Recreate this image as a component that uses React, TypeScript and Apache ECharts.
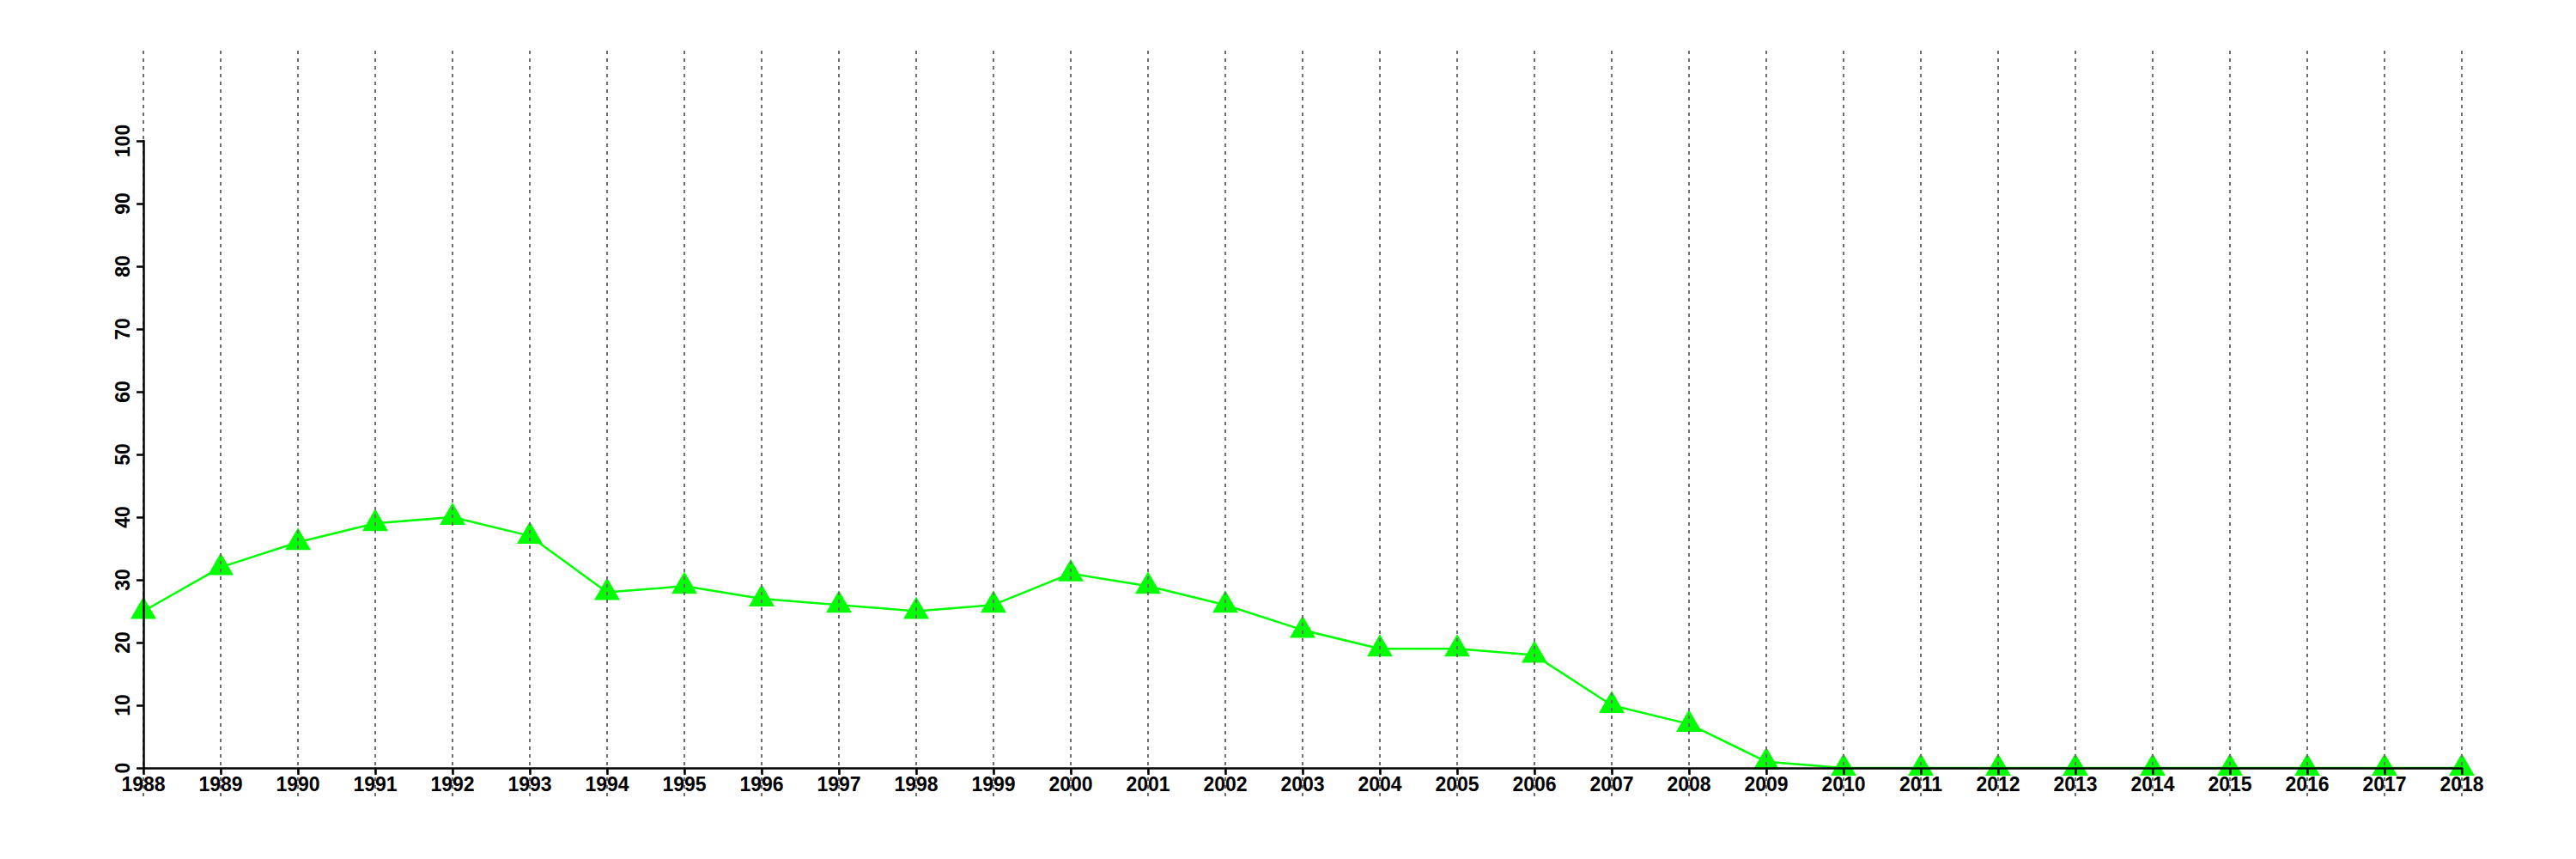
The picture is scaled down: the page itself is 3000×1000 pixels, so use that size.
import React, { useEffect, useRef } from "react";
import * as echarts from "echarts";

const years: string[] = [
  "1988", "1989", "1990", "1991", "1992", "1993", "1994", "1995", "1996", "1997",
  "1998", "1999", "2000", "2001", "2002", "2003", "2004", "2005", "2006", "2007",
  "2008", "2009", "2010", "2011", "2012", "2013", "2014", "2015", "2016", "2017", "2018",
];

const values: number[] = [
  25, 32, 36, 39, 40, 37, 28, 29, 27, 26,
  25, 26, 31, 29, 26, 22, 19, 19, 18, 10,
  7, 1, 0, 0, 0, 0, 0, 0, 0, 0, 0,
];

const yMin = 0;
const yMax = 100;
const yStep = 10;

const FONT = "Liberation Sans";

export default function App() {
  const ref = useRef<HTMLDivElement>(null);

  useEffect(() => {
    if (!ref.current) return;
    const chart = echarts.init(ref.current, null, { renderer: "svg" });
    const labelStyle = {
      fontFamily: FONT,
      fontWeight: "bold" as const,
      fontSize: 23,
      color: "#000",
    };
    chart.setOption({
      animation: false,
      backgroundColor: "#fff",
      grid: [
        { left: 167, right: 133, top: 164, bottom: 106 },
        { left: 167, right: 133, top: 59, bottom: 73 },
      ],
      xAxis: [
        {
          type: "category",
          gridIndex: 0,
          data: years,
          boundaryGap: false,
          axisLine: { show: true, lineStyle: { color: "#000", width: 2.5 } },
          axisTick: { show: true, length: 8, lineStyle: { color: "#000", width: 2.5 } },
          axisLabel: { ...labelStyle, margin: 7, interval: 0 },
          splitLine: { show: false },
          z: 12,
        },
        {
          type: "category",
          gridIndex: 1,
          data: years,
          boundaryGap: false,
          axisLine: { show: false },
          axisTick: { show: false },
          axisLabel: { show: false },
          splitLine: {
            show: true,
            interval: 0,
            lineStyle: { color: "#6e6e6e", width: 2, type: [4, 5] },
          },
          z: 11,
        },
      ],
      yAxis: [
        {
          type: "value",
          gridIndex: 0,
          min: yMin,
          max: yMax,
          interval: yStep,
          axisLine: { show: true, lineStyle: { color: "#000", width: 2.5 } },
          axisTick: { show: true, length: 8, lineStyle: { color: "#000", width: 2.5 } },
          axisLabel: { ...labelStyle, rotate: 90, margin: 13 },
          splitLine: { show: false },
          z: 12,
        },
        {
          type: "value",
          gridIndex: 1,
          show: false,
          splitLine: { show: false },
        },
      ],
      series: [
        {
          type: "line",
          xAxisIndex: 0,
          yAxisIndex: 0,
          data: values,
          symbol: "triangle",
          symbolSize: [30, 26],
          symbolOffset: [0, -4],
          showSymbol: true,
          lineStyle: { color: "#00ff00", width: 2.5 },
          itemStyle: { color: "#00ff00" },
          z: 2,
        },
      ],
    });
    return () => chart.dispose();
  }, []);

  return (
    <div
      ref={ref}
      style={{ position: "fixed", left: 0, top: 0, width: 3000, height: 1000 }}
    />
  );
}
